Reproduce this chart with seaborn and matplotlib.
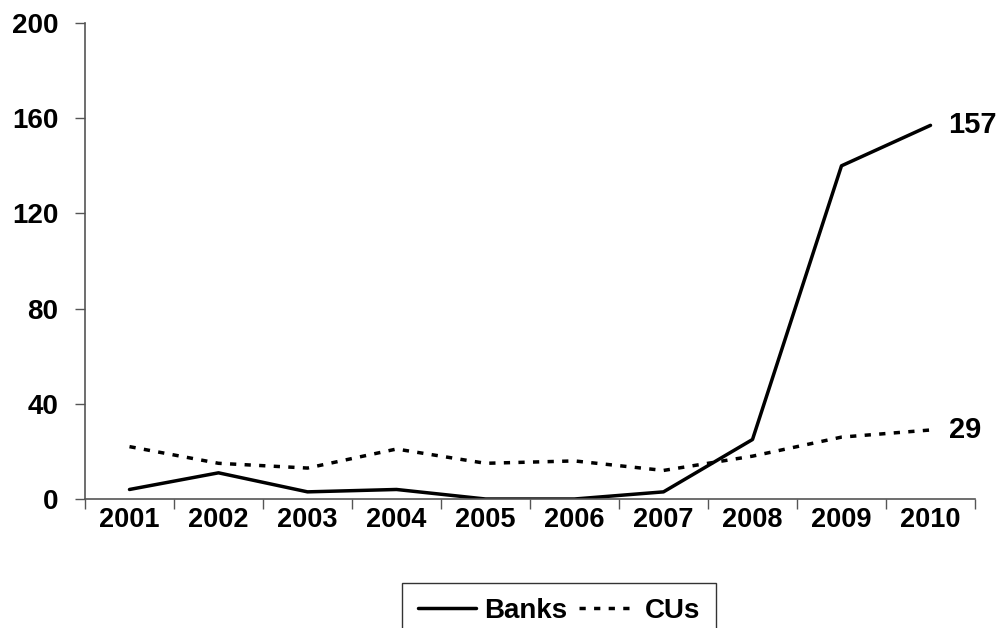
import numpy as np
import pandas as pd
import matplotlib
matplotlib.use('Agg')
import matplotlib.pyplot as plt
import seaborn as sns

years = ['2001', '2002', '2003', '2004', '2005', '2006', '2007', '2008', '2009', '2010']
banks = [4, 11, 3, 4, 0, 0, 3, 25, 140, 157]
cus = [22, 15, 13, 21, 15, 16, 12, 18, 26, 29]
y_ticks = [0, 40, 80, 120, 160, 200]

sns.set_theme(style='white')
plt.rcParams['font.family'] = ['Liberation Sans', 'DejaVu Sans']
plt.rcParams['font.weight'] = 'bold'
plt.rcParams['text.color'] = 'black'
plt.rcParams['xtick.color'] = 'black'
plt.rcParams['ytick.color'] = 'black'

df = pd.DataFrame({'pos': np.arange(len(years)), 'Banks': banks, 'CUs': cus})

fig = plt.figure(figsize=(10.04, 6.28), dpi=100)
ax = fig.add_axes([85 / 1004, 1 - 499 / 628, (975 - 85) / 1004, (499 - 23) / 628])

sns.lineplot(data=df, x='pos', y='Banks', ax=ax, color='black', lw=2.5, label='Banks')
sns.lineplot(data=df, x='pos', y='CUs', ax=ax, color='black', lw=2.5,
             linestyle=(0, (1.8, 2.4)), label='CUs')

ax.set_xlim(-0.5, len(years) - 0.5)
ax.set_ylim(0, 200)
ax.set_yticks(y_ticks)
ax.set_yticklabels([str(t) for t in y_ticks], fontsize=20, fontweight='bold')
ax.set_xticks(np.arange(-0.5, len(years), 1.0))
ax.set_xticklabels([])
ax.set_xticks(np.arange(len(years)), minor=True)
ax.set_xticklabels(years, minor=True, fontsize=19.5, fontweight='bold')
ax.tick_params(axis='x', which='major', direction='out', length=7, width=1, color='#555555', bottom=True)
ax.tick_params(axis='x', which='minor', length=0, pad=6)
ax.tick_params(axis='y', direction='out', length=7, width=1, color='#555555', left=True, pad=12)
ax.set_xlabel('')
ax.set_ylabel('')
for s in ['top', 'right']:
    ax.spines[s].set_visible(False)
for s in ['left', 'bottom']:
    ax.spines[s].set_color('#555555')
    ax.spines[s].set_linewidth(1.2)

ax.annotate(str(banks[-1]), (len(years) - 1, banks[-1]), xytext=(13, 0),
            textcoords='offset points', va='center', ha='left', fontsize=21, fontweight='bold')
ax.annotate(str(cus[-1]), (len(years) - 1, cus[-1]), xytext=(13, 0),
            textcoords='offset points', va='center', ha='left', fontsize=21, fontweight='bold')

ax.legend_.remove()
handles, labels = ax.get_legend_handles_labels()
leg = fig.legend(handles, labels, loc='upper center', bbox_to_anchor=(0.557, 0.072),
                 ncol=2, frameon=True, fancybox=False, edgecolor='black',
                 prop={'size': 20, 'weight': 'bold'}, handlelength=2.1,
                 columnspacing=0.4, handletextpad=0.3, borderpad=0.55, borderaxespad=0)
leg.get_frame().set_linewidth(1.0)

fig.savefig('out.png', dpi=100)
